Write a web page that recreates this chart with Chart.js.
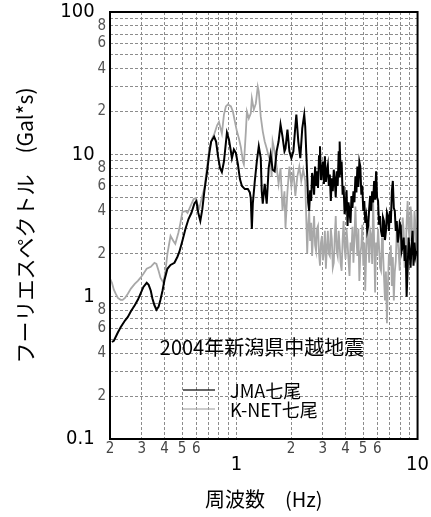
<!DOCTYPE html>
<html>
<head>
<meta charset="utf-8">
<script src="https://cdn.jsdelivr.net/npm/chart.js@4.4.0/dist/chart.umd.min.js"></script>
<style>
  html, body { margin: 0; background: #fff; }
  #wrap { width: 431px; height: 517px; }
</style>
</head>
<body>
<div id="wrap"><canvas id="myChart"></canvas></div>
<script>
// JMA七尾 (black)
var jmaFreq = [0.205,0.210,0.221,0.229,0.242,0.251,0.261,0.274,0.285,0.295,
  0.306,0.319,0.327,0.336,0.343,0.352,0.361,0.371,0.380,0.390,
  0.400,0.415,0.432,0.454,0.471,0.483,0.502,0.522,0.543,0.563,
  0.586,0.600,0.615,0.631,0.647,0.664,0.688,0.706,0.724,0.752,
  0.771,0.790,0.811,0.830,0.852,0.885,0.908,0.931,0.943,0.967,
  0.992,1.018,1.044,1.071,1.112,1.155,1.184,1.199,1.215,1.230,
  1.262,1.294,1.327,1.361,1.378,1.396,1.431,1.468,1.505,1.543,
  1.583,1.624,1.665,1.707,1.750,1.795,1.840,1.864,1.911,1.959,
  2.009,2.061,2.113,2.140,2.194,2.250,2.307,2.366,2.396,2.457,
  2.488,2.519,2.551,2.583,2.615,2.649,2.682,2.716,2.750,2.784,
  2.819,2.855,2.891,2.927,2.964,3.002,3.039,3.077,3.116,3.155,
  3.195,3.235,3.276,3.318,3.360,3.402,3.445,3.488,3.532,3.576,
  3.621,3.667,3.690,3.713,3.760,3.807,3.855,3.903,3.953,4.003,
  4.053,4.104,4.156,4.208,4.262,4.315,4.369,4.424,4.480,4.537,
  4.594,4.651,4.710,4.769,4.830,4.891,4.952,5.015,5.078,5.142,
  5.207,5.272,5.339,5.406,5.474,5.543,5.613,5.683,5.755,5.828,
  5.902,5.976,6.051,6.127,6.205,6.283,6.362,6.442,6.523,6.606,
  6.689,6.773,6.859,6.945,7.033,7.121,7.211,7.302,7.394,7.487,
  7.581,7.677,7.773,7.872,7.971,8.071,8.173,8.276,8.381,8.486,
  8.593,8.701,8.811,8.922,9.035,9.150,9.264,9.381,9.499,9.618,
  9.739,9.862];
var jmaAmp = [0.48,0.49,0.56,0.61,0.68,0.72,0.79,0.87,0.95,1.05,
  1.17,1.25,1.21,1.10,0.97,0.87,0.81,0.85,0.95,1.10,
  1.31,1.57,1.67,1.73,1.90,2.06,2.46,2.99,3.51,3.87,
  4.54,4.7,3.87,3.40,4.1,5.5,7.6,10.0,12.3,13.3,
  12.3,9.7,8.0,7.5,8.9,14.2,12.7,10.5,9.4,10.8,
  10.2,8.5,6.7,6.0,5.7,5.7,5.4,4.9,2.99,4.5,
  6.5,8.9,11.4,9.4,5.5,4.5,6.2,4.5,8.0,10.0,
  7.8,7.6,10.5,12.3,16.2,13.3,10.5,11.0,14.9,10.5,
  9.4,10.5,15.7,19.0,12.3,9.4,15.2,19.0,15.7,7.0,
  4.6,4.0,5.6,4.7,7.4,6.7,5.2,8.2,6.0,7.6,
  5.8,9.7,11.4,6.6,7.6,8.9,6.2,9.7,6.4,7.6,
  8.4,6.0,7.2,4.7,6.8,5.5,7.8,6.5,5.0,7.6,
  6.0,10.5,7.0,12.3,7.2,8.9,5.2,6.0,3.8,4.3,
  5.6,3.14,4.6,4.0,3.3,5.1,4.2,5.5,4.6,7.0,
  5.4,8.2,5.9,8.9,8.2,5.2,6.0,4.0,4.7,3.3,
  3.68,2.9,3.14,4.2,5.1,4.0,5.5,4.6,6.5,4.8,
  7.6,5.0,4.7,3.2,3.68,2.9,2.67,3.6,3.40,2.5,
  2.90,3.9,3.68,2.9,4.0,3.3,5.5,6.5,4.2,4.0,
  2.9,3.40,2.4,2.67,3.3,3.14,2.1,2.27,2.6,1.78,
  2.3,1.0,1.52,2.6,2.10,1.6,2.27,2.9,1.65,2.4,
  1.93,2.10];

// K-NET七尾 (gray)
var knetFreq = [0.200,0.205,0.210,0.215,0.221,0.229,0.235,0.242,0.251,0.261,
  0.274,0.285,0.295,0.306,0.319,0.336,0.352,0.361,0.371,0.380,
  0.395,0.405,0.415,0.432,0.448,0.459,0.477,0.490,0.502,0.522,
  0.536,0.557,0.579,0.592,0.608,0.623,0.647,0.664,0.688,0.706,
  0.733,0.752,0.781,0.800,0.820,0.830,0.852,0.873,0.896,0.931,
  0.955,0.980,1.005,1.031,1.057,1.085,1.098,1.126,1.141,1.169,
  1.199,1.215,1.246,1.278,1.310,1.327,1.361,1.396,1.431,1.468,
  1.505,1.543,1.563,1.583,1.624,1.665,1.707,1.750,1.795,1.840,
  1.864,1.911,1.959,2.009,2.061,2.113,2.167,2.222,2.278,2.336,
  2.396,2.457,2.488,2.519,2.551,2.583,2.615,2.649,2.682,2.716,
  2.750,2.784,2.819,2.855,2.891,2.927,2.964,3.002,3.039,3.077,
  3.116,3.155,3.195,3.235,3.276,3.318,3.360,3.402,3.445,3.488,
  3.532,3.576,3.621,3.667,3.713,3.760,3.807,3.855,3.903,3.953,
  4.003,4.053,4.104,4.156,4.208,4.262,4.315,4.369,4.424,4.480,
  4.537,4.594,4.651,4.710,4.769,4.830,4.891,4.952,5.015,5.078,
  5.142,5.207,5.272,5.339,5.406,5.474,5.543,5.613,5.683,5.755,
  5.828,5.902,5.976,6.051,6.127,6.205,6.283,6.362,6.442,6.523,
  6.606,6.689,6.773,6.859,6.945,7.033,7.121,7.211,7.302,7.394,
  7.487,7.581,7.677,7.773,7.872,7.971,8.071,8.173,8.276,8.381,
  8.486,8.593,8.701,8.811,8.922,9.035,9.150,9.264,9.381,9.499,
  9.618,9.739,9.862];
var knetAmp = [1.34,1.25,1.12,1.05,0.98,0.95,0.95,0.98,1.05,1.14,
  1.23,1.29,1.36,1.45,1.57,1.62,1.73,1.70,1.52,1.36,
  1.25,1.52,2.00,2.67,2.46,2.35,2.80,3.3,3.93,4.0,
  3.87,4.33,4.85,4.92,4.47,4.19,5.1,5.8,8.2,10.8,
  12.9,13.8,16.0,16.9,14.9,14.0,19.0,21.7,22.4,21.7,
  20.0,16.9,14.5,12.9,11.2,8.9,8.5,14.5,20.0,17.9,
  19.4,24.7,20.6,22.7,29.9,27.6,18.4,14.5,12.3,11.0,
  9.7,8.9,7.0,12.3,10.5,8.2,6.2,8.0,4.0,5.5,
  3.04,5.5,8.2,6.0,7.6,5.1,7.0,8.2,6.5,7.8,
  6.5,2.03,3.2,4.0,2.46,3.3,1.93,2.8,3.68,2.3,
  2.10,3.0,3.14,2.0,1.65,2.4,2.67,1.8,2.10,2.9,
  1.57,2.2,2.90,2.0,1.93,3.0,2.54,1.6,1.73,2.6,
  3.68,2.1,1.93,2.9,2.27,1.7,1.52,2.5,3.40,2.2,
  1.84,3.0,2.38,1.8,1.40,2.4,2.10,3.1,1.73,2.6,
  4.3,2.6,1.93,3.0,1.29,2.0,2.27,3.2,1.65,2.4,
  1.10,2.1,3.68,2.4,1.73,2.9,2.67,1.7,4.7,2.5,
  1.07,2.4,1.93,3.0,2.27,1.6,1.52,2.6,2.10,1.4,
  0.94,1.5,0.65,1.19,2.0,1.65,2.3,1.19,1.9,0.94,
  1.5,1.78,3.0,2.46,2.0,1.52,3.2,2.10,3.6,2.90,
  1.6,1.93,3.3,4.7,3.0,2.46,4.3,3.68,2.0,2.27,
  4.0,3.14,1.93];

var xTickValues = [0.2,0.3,0.4,0.5,0.6,0.7,0.8,0.9,1,2,3,4,5,6,7,8,9,10];
var xTickLabels = ['2','3','4','5','6','','','','1','2','3','4','5','6','','','','10'];
var xMajor = [1, 10];

var yTickValues = [0.1,0.2,0.3,0.4,0.5,0.6,0.7,0.8,0.9,1,2,3,4,5,6,7,8,9,10,20,30,40,50,60,70,80,90,100];
var yTickLabels = ['0.1','2','','4','','6','','8','','1','2','','4','','6','','8','','10','2','','4','','6','','8','','100'];
var yMajor = [0.1, 1, 10, 100];

var titleText = '2004年新潟県中越地震';
var xTitle = '周波数　(Hz)';
var yTitle = 'フーリエスペクトル　(Gal*s)';

function toPoints(fs, vs) {
  var pts = [];
  for (var i = 0; i < fs.length; i++) pts.push({x: fs[i], y: vs[i]});
  return pts;
}

var numFont = '"Liberation Sans Narrow", "DejaVu Sans Condensed", "Noto Sans CJK JP", sans-serif';
var jpFont = '"Noto Sans CJK JP", sans-serif';

var overlay = {
  id: 'overlay',
  afterDraw: function(chart) {
    var ctx = chart.ctx, a = chart.chartArea;
    ctx.save();
    ctx.strokeStyle = '#000';
    ctx.lineWidth = 2;
    ctx.strokeRect(a.left, a.top, a.right - a.left, a.bottom - a.top);
    ctx.fillStyle = '#000';
    ctx.font = '20px ' + jpFont;
    ctx.textAlign = 'center';
    ctx.textBaseline = 'middle';
    ctx.fillText(titleText, 262, 347);
    ctx.font = '18px ' + jpFont;
    ctx.textAlign = 'left';
    chart.data.datasets.forEach(function(ds, i) {
      var y = 390 + i * 19;
      ctx.strokeStyle = ds.borderColor;
      ctx.lineWidth = 1.2;
      ctx.beginPath();
      ctx.moveTo(183, y);
      ctx.lineTo(215, y);
      ctx.stroke();
      ctx.fillText(ds.label, 230, y + 1);
    });
    ctx.restore();
  }
};

const config = {
  type: 'scatter',
  data: {
    datasets: [
      { label: 'JMA七尾', data: toPoints(jmaFreq, jmaAmp), borderColor: '#000000',
        borderWidth: 2, showLine: true, pointRadius: 0, tension: 0 },
      { label: 'K-NET七尾', data: toPoints(knetFreq, knetAmp), borderColor: '#a8a8a8',
        borderWidth: 1.8, showLine: true, pointRadius: 0, tension: 0 }
    ]
  },
  options: {
    responsive: true,
    maintainAspectRatio: false,
    animation: false,
    layout: { padding: { top: 10, right: 11, left: 0, bottom: 0 } },
    plugins: { legend: { display: false }, tooltip: { enabled: false } },
    scales: {
      x: {
        type: 'logarithmic', min: 0.2, max: 10,
        afterBuildTicks: function(s) { s.ticks = xTickValues.map(function(v) { return {value: v}; }); },
        afterFit: function(s) { s.height = 78; },
        grid: { color: '#8c8c8c', lineWidth: 1, drawTicks: false },
        border: { display: false, dash: [3, 2] },
        ticks: {
          autoSkip: false, maxRotation: 0, minRotation: 0, padding: 2,
          callback: function(v, i) {
            return xMajor.indexOf(xTickValues[i]) >= 0 ? ['', xTickLabels[i]] : xTickLabels[i];
          },
          color: function(c) { return xMajor.indexOf(c.tick.value) >= 0 ? '#000' : '#444'; },
          font: function(c) {
            return xMajor.indexOf(c.tick.value) >= 0
              ? {family: numFont, size: 20, lineHeight: 0.8}
              : {family: numFont, size: 15, lineHeight: 1.1};
          }
        },
        title: { display: true, text: xTitle, color: '#000',
          font: {family: jpFont, size: 20}, padding: {bottom: 6} }
      },
      y: {
        type: 'logarithmic', min: 0.1, max: 100,
        afterBuildTicks: function(s) { s.ticks = yTickValues.map(function(v) { return {value: v}; }); },
        afterFit: function(s) { s.width = 110; },
        grid: { color: '#8c8c8c', lineWidth: 1, drawTicks: false },
        border: { display: false, dash: [3, 2] },
        ticks: {
          autoSkip: false, padding: 4,
          callback: function(v, i) {
            return yMajor.indexOf(yTickValues[i]) >= 0 ? yTickLabels[i] + '  ' : yTickLabels[i];
          },
          color: function(c) { return yMajor.indexOf(c.tick.value) >= 0 ? '#000' : '#555'; },
          font: function(c) {
            return yMajor.indexOf(c.tick.value) >= 0
              ? {family: numFont, size: 20, lineHeight: 0.8}
              : {family: numFont, size: 15, lineHeight: 1};
          }
        },
        title: { display: true, text: yTitle, color: '#000',
          font: {family: jpFont, size: 21}, padding: {top: 12} }
      }
    }
  },
  plugins: [overlay]
};

const myChart = new Chart(document.getElementById('myChart'), config);
</script>
</body>
</html>
